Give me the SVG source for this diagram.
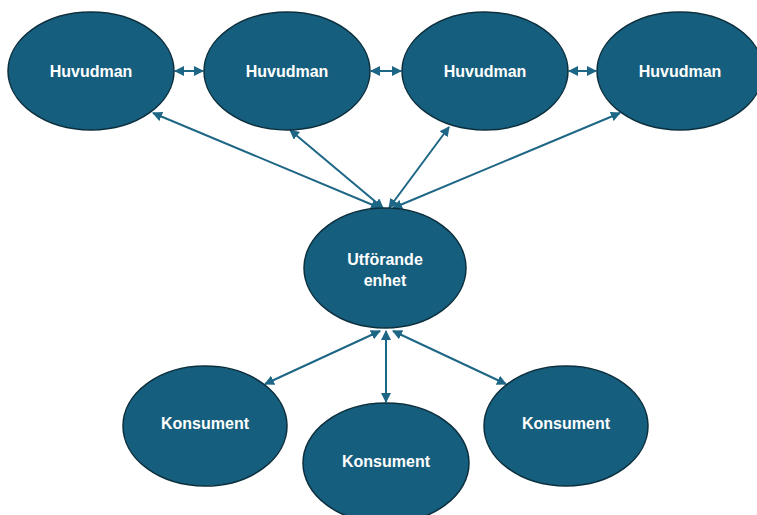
<svg xmlns="http://www.w3.org/2000/svg" width="757" height="515" viewBox="0 0 757 515">
<style>
.n{fill:#165e7d;stroke:#0c2f3e;stroke-width:1.5}
.t{fill:#ffffff;font-family:"Liberation Sans",Arial,sans-serif;font-size:16px;font-weight:bold;text-anchor:middle}
.c{stroke:#1d6686;stroke-width:2;fill:none;marker-start:url(#ah);marker-end:url(#ah)}
</style>
<defs>
<marker id="ah" viewBox="0 0 10 10" refX="9" refY="5" markerWidth="5" markerHeight="5" orient="auto-start-reverse" markerUnits="strokeWidth">
<path d="M0,0 L10,5 L0,10 z" fill="#1d6686"/>
</marker>
</defs>
<rect width="757" height="515" fill="#ffffff"/>
<g id="connectors">
<line class="c" x1="175" y1="71" x2="203" y2="71"/>
<line class="c" x1="371" y1="71" x2="401" y2="71"/>
<line class="c" x1="569" y1="71" x2="596" y2="71"/>
<line class="c" x1="380" y1="208" x2="153" y2="113"/>
<line class="c" x1="383" y1="208" x2="290" y2="130"/>
<line class="c" x1="389" y1="208" x2="449" y2="127"/>
<line class="c" x1="393" y1="208" x2="620" y2="113"/>
<line class="c" x1="380" y1="331" x2="265" y2="384"/>
<line class="c" x1="386" y1="331" x2="386" y2="402"/>
<line class="c" x1="393" y1="331" x2="506" y2="384"/>
</g>
<g id="h1"><ellipse class="n" cx="91" cy="71" rx="83" ry="59"/><text class="t" x="91" y="77">Huvudman</text></g>
<g id="h2"><ellipse class="n" cx="287" cy="71" rx="83" ry="59"/><text class="t" x="287" y="77">Huvudman</text></g>
<g id="h3"><ellipse class="n" cx="485" cy="71" rx="83" ry="59"/><text class="t" x="485" y="77">Huvudman</text></g>
<g id="h4"><ellipse class="n" cx="680" cy="71" rx="83" ry="59"/><text class="t" x="680" y="77">Huvudman</text></g>
<g id="u"><ellipse class="n" cx="385" cy="268" rx="81" ry="60"/><text class="t" x="385" y="265">Utförande</text><text class="t" x="385" y="286">enhet</text></g>
<g id="k1"><ellipse class="n" cx="205" cy="426" rx="82" ry="60"/><text class="t" x="205" y="429">Konsument</text></g>
<g id="k2"><ellipse class="n" cx="386" cy="463" rx="83" ry="60"/><text class="t" x="386" y="467">Konsument</text></g>
<g id="k3"><ellipse class="n" cx="566" cy="426" rx="82" ry="60"/><text class="t" x="566" y="429">Konsument</text></g>
</svg>
